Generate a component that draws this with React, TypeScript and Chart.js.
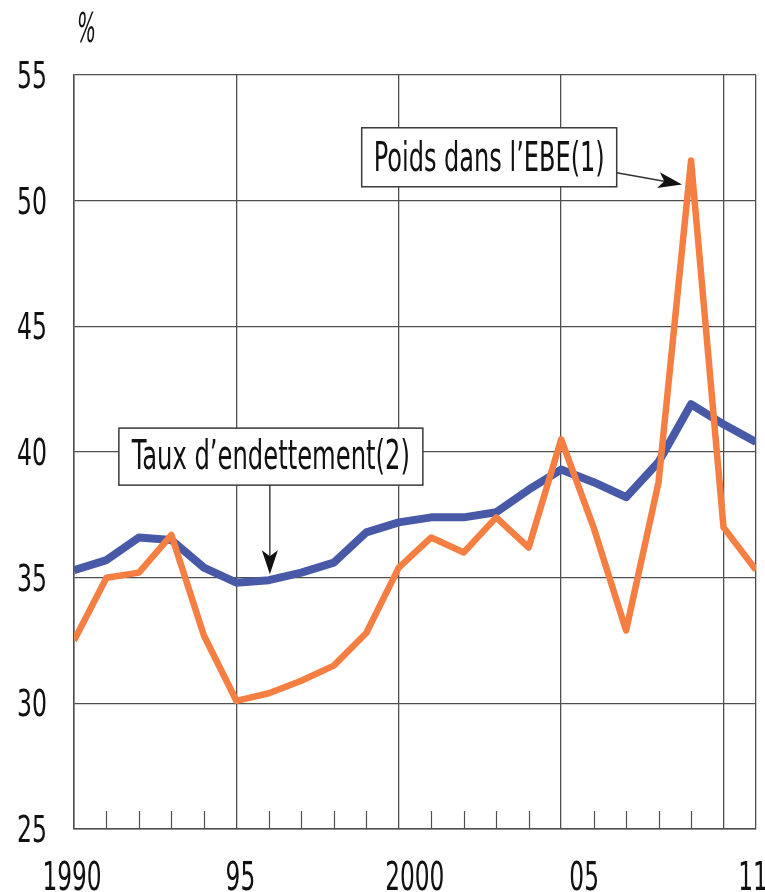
import React, { useEffect, useRef } from 'react';
import { Chart, registerables } from 'chart.js';

Chart.register(...registerables);

// ---- Data ----
const years = [1990, 1991, 1992, 1993, 1994, 1995, 1996, 1997, 1998, 1999, 2000, 2001, 2002, 2003, 2004, 2005, 2006, 2007, 2008, 2009, 2010, 2011];
const tauxEndettement = [35.3, 35.7, 36.6, 36.5, 35.4, 34.8, 34.9, 35.2, 35.6, 36.8, 37.2, 37.4, 37.4, 37.6, 38.5, 39.3, 38.8, 38.2, 39.6, 41.9, 41.1, 40.4];
const poidsEBE = [32.5, 35.0, 35.2, 36.7, 32.7, 30.1, 30.4, 30.9, 31.5, 32.8, 35.4, 36.6, 36.0, 37.4, 36.2, 40.5, 37.0, 32.9, 38.8, 51.6, 37.0, 35.3];
const yTicks = [25, 30, 35, 40, 45, 50, 55];
const xLabelYears = [1990, 1995, 2000, 2005, 2011];
const xLabelText = ['1990', '95', '2000', '05', '11'];
const seriesNames = ['Poids dans l’EBE(1)', 'Taux d’endettement(2)'];
const unitLabel = '%';

// ---- Styles ----
const FONT = '"Liberation Sans Narrow", "DejaVu Sans Condensed", "Liberation Sans", sans-serif';
const GRID = '#4f4f4f';
const BLUE = '#4859a8';
const ORANGE = '#f57e42';

function drawCondensed(ctx: CanvasRenderingContext2D, text: string, x: number, y: number, size: number, targetW: number | null, align: 'left' | 'center' | 'right', style = '') {
  ctx.save();
  ctx.font = `${style}${size}px ${FONT}`;
  const w = ctx.measureText(text).width;
  const sx = targetW ? targetW / w : 1;
  const drawnW = w * sx;
  let left = x;
  if (align === 'center') left = x - drawnW / 2;
  if (align === 'right') left = x - drawnW;
  ctx.translate(left, y);
  ctx.scale(sx, 1);
  ctx.textAlign = 'left';
  ctx.textBaseline = 'alphabetic';
  ctx.fillText(text, 0, 0);
  ctx.restore();
}

function drawArrow(ctx: CanvasRenderingContext2D, x1: number, y1: number, x2: number, y2: number, headLen: number, headW: number) {
  const ang = Math.atan2(y2 - y1, x2 - x1);
  const c = Math.cos(ang), s = Math.sin(ang);
  const bx = x2 - headLen * c, by = y2 - headLen * s;
  ctx.beginPath();
  ctx.moveTo(x1, y1);
  ctx.lineTo(bx + headLen * 0.3 * c, by + headLen * 0.3 * s);
  ctx.stroke();
  ctx.beginPath();
  ctx.moveTo(x2, y2);
  ctx.lineTo(bx + (headW / 2) * s, by - (headW / 2) * c);
  ctx.lineTo(bx + headLen * 0.25 * c, by + headLen * 0.25 * s);
  ctx.lineTo(bx - (headW / 2) * s, by + (headW / 2) * c);
  ctx.closePath();
  ctx.fill();
}

const decorPlugin = {
  id: 'decor',
  beforeDatasetsDraw(chart: any) {
    const { ctx, chartArea, scales } = chart;
    const x = scales.x;
    ctx.save();
    ctx.strokeStyle = GRID;
    ctx.lineWidth = 1.2;
    years.forEach((yr) => {
      if (yr % 5 === 0 || yr === years[years.length - 1]) return;
      const px = Math.round(x.getPixelForValue(yr)) + 0.5;
      ctx.beginPath();
      ctx.moveTo(px, chartArea.bottom);
      ctx.lineTo(px, chartArea.bottom - 18);
      ctx.stroke();
    });
    ctx.restore();
  },
  afterDatasetsDraw(chart: any) {
    const { ctx, chartArea, scales } = chart;
    const x = scales.x;
    const y = scales.y;
    ctx.save();
    ctx.fillStyle = '#111';
    // y labels
    yTicks.forEach((v) => {
      const py = y.getPixelForValue(v);
      drawCondensed(ctx, String(v), chartArea.left - 27, py + 13, 38, 30, 'right');
    });
    // x labels
    const nudges = [-2, 4, 16, 23, -3];
    xLabelYears.forEach((yr, i) => {
      const px = x.getPixelForValue(yr) + nudges[i];
      const w = xLabelText[i].length * 14.8;
      drawCondensed(ctx, xLabelText[i], px, chartArea.bottom + 61, 39, w, 'center');
    });
    // unit
    drawCondensed(ctx, unitLabel, chartArea.left + 3, 42, 40, 19, 'left', 'italic ');

    // annotation boxes
    const boxes = [
      { text: seriesNames[1], left: x.getPixelForValue(1996) - 150, top: y.getPixelForValue(40.95), w: 304, h: 57, textW: 278 },
      { text: seriesNames[0], left: x.getPixelForValue(2002.8) - 128, top: y.getPixelForValue(52.9), w: 255, h: 59, textW: 231 },
    ];
    boxes.forEach((b) => {
      ctx.fillStyle = '#ffffff';
      ctx.fillRect(b.left, b.top, b.w, b.h);
      ctx.strokeStyle = '#3a3a3a';
      ctx.lineWidth = 1.5;
      ctx.strokeRect(b.left, b.top, b.w, b.h);
      ctx.fillStyle = '#111';
      drawCondensed(ctx, b.text, b.left + b.w / 2, b.top + b.h - 16, 40, b.textW, 'center');
    });

    // arrows
    ctx.strokeStyle = '#333';
    ctx.fillStyle = '#111';
    ctx.lineWidth = 1.4;
    const tb = boxes[0];
    const tx = x.getPixelForValue(1996) + 1;
    drawArrow(ctx, tx, tb.top + tb.h, tx, y.getPixelForValue(tauxEndettement[6]) - 6, 24, 16);
    const pb = boxes[1];
    const peakX = x.getPixelForValue(2009);
    const peakY = y.getPixelForValue(poidsEBE[19]);
    drawArrow(ctx, pb.left + pb.w, pb.top + 45, peakX - 9, peakY + 24, 24, 16);
    ctx.restore();
  },
};

export default function App() {
  const ref = useRef<HTMLCanvasElement | null>(null);

  useEffect(() => {
    document.body.style.margin = '0';
    const canvas = ref.current;
    if (!canvas) return;
    const chart = new Chart(canvas, {
      type: 'line',
      data: {
        labels: years,
        datasets: [
          {
            label: seriesNames[0],
            data: years.map((yr, i) => ({ x: yr, y: poidsEBE[i] })),
            borderColor: ORANGE,
            borderWidth: 6.5,
            pointRadius: 0,
            tension: 0,
            borderJoinStyle: 'round',
            clip: 0,
          },
          {
            label: seriesNames[1],
            data: years.map((yr, i) => ({ x: yr, y: tauxEndettement[i] })),
            borderColor: BLUE,
            borderWidth: 8,
            pointRadius: 0,
            tension: 0,
            borderJoinStyle: 'round',
            clip: 0,
          },
        ],
      },
      options: {
        animation: false,
        responsive: false,
        maintainAspectRatio: false,
        layout: { padding: { top: 75, right: 9, left: 0, bottom: 0 } },
        plugins: { legend: { display: false }, tooltip: { enabled: false } },
        scales: {
          x: {
            type: 'linear',
            min: 1990,
            max: 2011,
            afterBuildTicks: (scale: any) => {
              scale.ticks = years.map((v) => ({ value: v }));
            },
            afterFit: (scale: any) => {
              scale.height = 63;
            },
            ticks: { display: false },
            grid: {
              drawTicks: false,
              lineWidth: 1.3,
              color: (c: any) =>
                c.tick && (c.tick.value % 5 === 0 || c.tick.value === 2011) ? GRID : 'rgba(0,0,0,0)',
            },
            border: { display: true, color: GRID, width: 1.5 },
          },
          y: {
            type: 'linear',
            min: 25,
            max: 55,
            afterBuildTicks: (scale: any) => {
              scale.ticks = yTicks.map((v) => ({ value: v }));
            },
            afterFit: (scale: any) => {
              scale.width = 74;
            },
            ticks: { display: false },
            grid: { drawTicks: false, color: GRID, lineWidth: 1.3 },
            border: { display: true, color: GRID, width: 1.5 },
          },
        },
      },
      plugins: [decorPlugin],
    });
    return () => chart.destroy();
  }, []);

  return (
    <div style={{ width: 765, height: 892, position: 'relative' }}>
      <canvas ref={ref} width={765} height={892} style={{ display: 'block' }} />
    </div>
  );
}
